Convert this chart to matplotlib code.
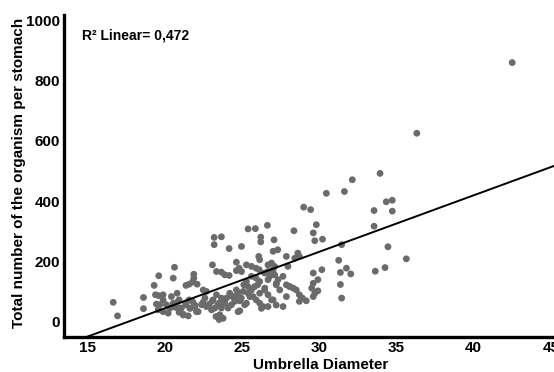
import matplotlib
matplotlib.use("Agg")
import matplotlib.pyplot as plt
import numpy as np

plt.rcParams['font.family'] = ['Liberation Sans', 'DejaVu Sans']

# Umbrella diameter (x) and total number per stomach (y)
diam = [
    16.64, 16.92, 18.6, 18.6, 19.29, 19.59, 19.38, 19.59, 19.87, 19.44, 19.66, 20.09, 20.3, 19.87, 20.2, 19.55,
    23.18, 23.65, 23.18, 24.15, 24.95, 20.61, 20.53, 21.86, 21.86, 21.78, 21.56, 21.35, 22.08, 23.07,
    23.33, 23.65, 23.87, 24.15, 24.62, 24.80, 24.62, 24.95,
    20.78, 20.91, 20.53, 20.70, 20.91, 21.17, 21.35, 21.06, 21.56, 21.78, 21.65, 21.93, 22.14, 22.36,
    22.58, 22.47, 22.68, 22.86, 23.01, 23.11, 23.33, 23.50, 23.65, 23.87, 23.98, 24.19, 24.30, 24.52,
    24.62, 24.73, 24.84, 25.06, 25.10, 23.55, 23.76, 23.5, 23.3, 21.2, 21.5,
    19.87, 20.41, 20.84, 21.34, 20.95, 20.52, 21.6, 21.92, 22.46, 22.68, 23.07, 23.22, 23.43, 23.65,
    23.86, 24.08, 24.36, 24.51, 24.73, 24.94, 25.16, 24.84, 23.54, 22.03,
    28.98, 29.43, 25.38, 25.85, 26.63, 28.35, 29.8, 29.6, 29.7, 30.2, 26.2, 26.2, 27.06, 27.0, 27.3,
    26.07, 26.13, 27.86, 28.6, 28.7, 28.4, 25.27, 25.6, 25.9, 26.1, 26.67, 26.9, 27.1, 27.0, 26.67,
    27.96, 26.45, 26.78, 27.1, 27.32, 27.2, 25.6, 25.9, 26.13, 26.0, 25.8, 25.6, 25.38, 25.7, 25.9,
    26.13, 26.35, 26.45, 26.67, 26.9, 27.2, 27.64, 27.86, 28.07, 28.3, 28.5, 28.7, 28.9, 28.7, 29.15,
    29.6, 29.6, 29.9, 29.5, 29.7, 29.9, 29.6, 30.16, 25.27, 25.38,
    25.49, 26.13, 26.46, 26.67, 26.89, 27.21, 27.43, 27.0, 26.67, 26.24, 25.27, 27.64, 28.08, 27.86,
    33.93, 32.13, 30.45, 31.62, 34.33, 34.72, 33.54, 34.72, 33.54, 31.44, 34.44, 35.63, 31.25, 31.75,
    31.36, 32.03, 33.62, 34.25, 31.36, 31.44,
    42.49, 36.31,
]
count = [
    65, 20, 81, 44, 121, 153, 90, 87, 73, 59, 57, 57, 45, 34, 29, 40,
    280, 282, 256, 243, 250, 181, 145, 158, 145, 132, 125, 121, 125, 189,
    167, 165, 156, 154, 198, 178, 170, 167,
    95, 73, 62, 48, 32, 23, 57, 46, 73, 68, 46, 51, 34, 57,
    79, 106, 101, 59, 40, 73, 90, 62, 46, 62, 79, 95, 57, 84,
    106, 34, 70, 101, 123, 23, 12, 8, 18, 25, 20,
    90, 84, 68, 62, 46, 51, 45, 57, 65, 51, 70, 46, 57, 79,
    62, 46, 84, 68, 95, 79, 57, 37, 23, 34,
    380, 372, 308, 309, 320, 302, 322, 295, 269, 274, 281, 265, 272, 234, 239,
    217, 206, 217, 228, 217, 211, 189, 184, 178, 173, 189, 195, 184, 173, 167,
    184, 162, 151, 156, 140, 123, 151, 145, 134, 123, 117, 106, 95, 84, 73,
    62, 51, 106, 90, 73, 56, 51, 123, 117, 112, 106, 90, 79, 68, 70,
    162, 128, 140, 112, 95, 103, 84, 173, 134, 117,
    84, 95, 112, 140, 156, 128, 106, 73, 51, 45, 62, 151, 117, 84,
    492, 471, 426, 432, 398, 403, 369, 367, 317, 256, 249, 209, 204, 178,
    164, 159, 168, 180, 124, 79,
    859, 625,
]

# Fitted line
fit_intercept = -328.5
fit_slope = 18.7
fit_x = [15.0, 45.3]

x_ticks = [15, 20, 25, 30, 35, 40, 45]
y_ticks = [0, 200, 400, 600, 800, 1000]

fig = plt.figure(figsize=(5.54, 3.72), dpi=100)
ax = fig.add_axes([0.1155, 0.094, 0.8845, 0.866])

ax.scatter(diam, count, s=24, color='#6b6b6b', edgecolors='none', zorder=3)
fx = np.array(fit_x)
ax.plot(fx, fit_intercept + fit_slope * fx, color='black', lw=1.4, zorder=4)

ax.set_xlim(13.45, 45.2)
ax.set_ylim(-50, 1017)
ax.set_xticks(x_ticks)
ax.set_yticks(y_ticks)
ax.tick_params(length=0, labelsize=11, pad=3)
for lab in ax.get_xticklabels() + ax.get_yticklabels():
    lab.set_fontweight('bold')

for s in ['top', 'right']:
    ax.spines[s].set_visible(False)
for s in ['left', 'bottom']:
    ax.spines[s].set_linewidth(2.4)
    ax.spines[s].set_color('black')

ax.set_xlabel('Umbrella Diameter', fontsize=11, fontweight='bold')
ax.set_ylabel('Total number of the organism per stomach', fontsize=11, fontweight='bold')
ax.xaxis.set_label_coords(0.524, -0.066)
ax.yaxis.set_label_coords(-0.077, 0.51)

ax.text(0.037, 0.935, 'R\u00b2 Linear= 0,472', transform=ax.transAxes,
        fontsize=10, fontweight='bold', va='center', ha='left')

fig.savefig('out.png', dpi=100)
